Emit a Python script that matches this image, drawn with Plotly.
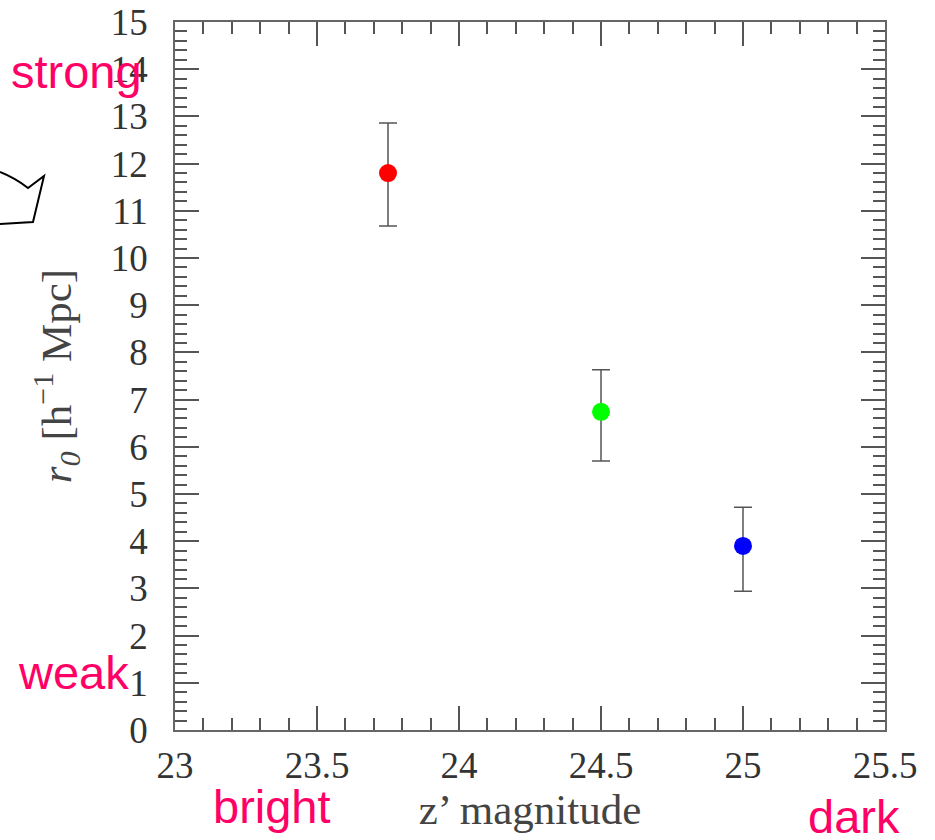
import plotly.graph_objects as go

# Data
magnitudes = [23.75, 24.5, 25.0]
r0_values = [11.8, 6.74, 3.90]
err_plus = [1.06, 0.89, 0.82]
err_minus = [1.12, 1.04, 0.96]
point_colors = ["#ff0000", "#00ff00", "#0000ff"]

x_range = [23, 25.5]
y_range = [0, 15]

W, H = 935, 840
ML, MR, MT, MB = 175, 50, 22, 110
PW, PH = W - ML - MR, H - MT - MB


def px2paper(px, py):
    return (px - ML) / PW, (H - MB - py) / PH


fig = go.Figure()
fig.add_trace(go.Scatter(
    x=magnitudes, y=r0_values, mode="markers",
    marker=dict(size=18, color=point_colors),
    error_y=dict(type="data", symmetric=False, array=err_plus, arrayminus=err_minus,
                 color="#555555", thickness=1.5, width=9),
    showlegend=False,
))

axis_common = dict(
    showline=True, linecolor="#666666", linewidth=1.5, mirror="ticks",
    ticks="inside", tickcolor="#555555", tickwidth=1.5, ticklen=24,
    showgrid=False, zeroline=False,
    tickfont=dict(family="Liberation Serif", size=37, color="#333333"),
)

fig.update_xaxes(
    range=x_range, dtick=0.5, tick0=23,
    minor=dict(dtick=0.1, ticklen=12, ticks="inside", tickcolor="#555555", tickwidth=1.5, showgrid=False),
    title=dict(text="z’ magnitude", font=dict(family="Liberation Serif", size=43, color="#444444"), standoff=0),
    ticklabelstandoff=2,
    **axis_common,
)
fig.update_yaxes(
    range=y_range, dtick=1, tick0=0,
    minor=dict(dtick=0.2, ticklen=12, ticks="inside", tickcolor="#555555", tickwidth=1.5, showgrid=False),
    title=dict(text="<i>r<sub>0</sub></i> [h<sup>−1</sup> Mpc]",
               font=dict(family="Liberation Serif", size=43, color="#444444"), standoff=26),
    ticklabelstandoff=18,
    **axis_common,
)

pink = "#ff0066"
labels = [("strong", 77, 72), ("weak", 73, 672), ("bright", 272, 806), ("dark", 854, 816)]
for txt, cx, cy in labels:
    ax, ay = px2paper(cx, cy)
    fig.add_annotation(text=txt, x=ax, y=ay, xref="paper", yref="paper", showarrow=False,
                       xanchor="center", yanchor="middle",
                       font=dict(family="Liberation Sans", size=47, color=pink))

pts = [(0, 172), (15, 178), (28, 188), (44, 176), (33, 222), (0, 224)]
pp = [px2paper(a, b) for a, b in pts]
path = (f"M {pp[0][0]},{pp[0][1]} Q {pp[1][0]},{pp[1][1]} {pp[2][0]},{pp[2][1]} "
        f"L {pp[3][0]},{pp[3][1]} L {pp[4][0]},{pp[4][1]} L {pp[5][0]},{pp[5][1]}")
fig.add_shape(type="path", path=path, xref="paper", yref="paper",
              line=dict(color="black", width=2))

fig.update_layout(
    width=W, height=H, margin=dict(l=ML, r=MR, t=MT, b=MB, autoexpand=False),
    paper_bgcolor="white", plot_bgcolor="white",
)

fig.write_html("out.html")
